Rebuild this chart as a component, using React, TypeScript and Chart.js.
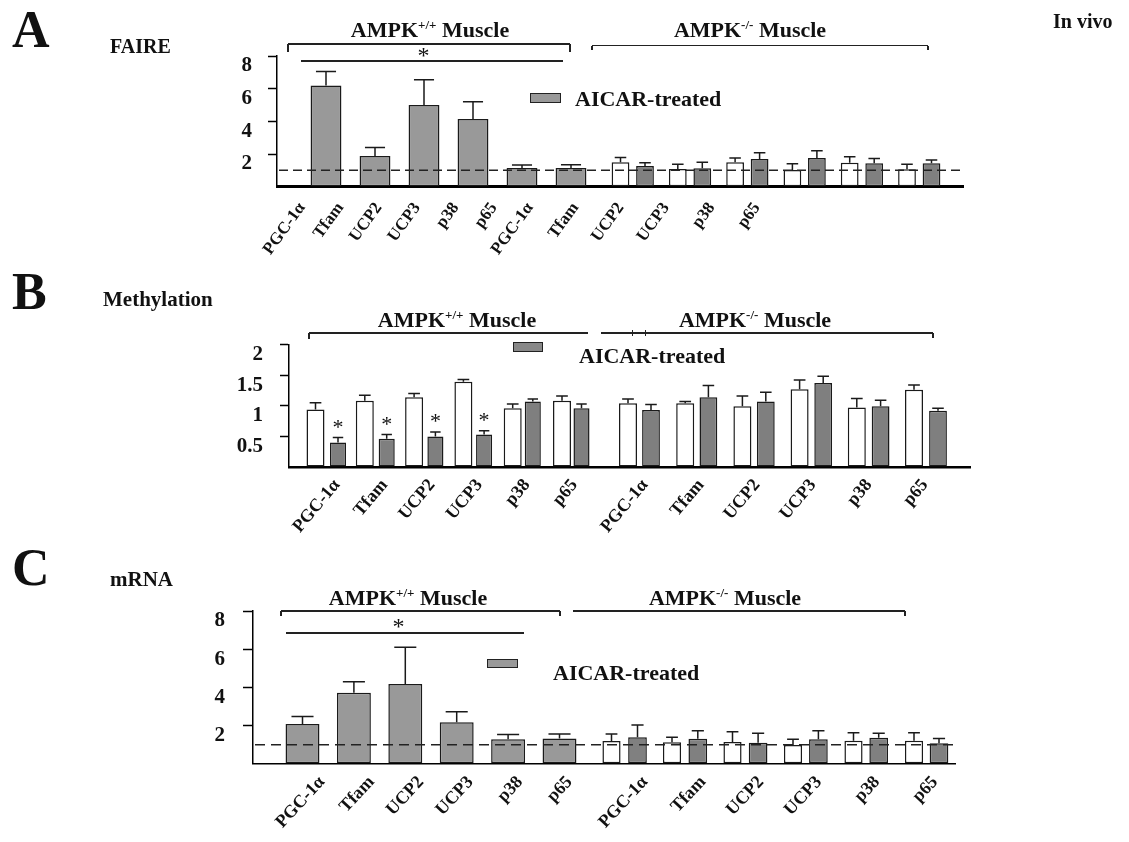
import React, { useEffect, useRef } from "react";
import { Chart, registerables } from "chart.js";

Chart.register(...registerables);

const SERIF = '"Liberation Serif", "Times New Roman", serif';
const INK = "#111";

// ---------- data ----------
const genes = ["PGC-1α", "Tfam", "UCP2", "UCP3", "p38", "p65"];
const allLabels = genes.concat(genes);

// A: FAIRE
const faireWtAicar = [6.2, 1.88, 5.0, 4.15, 1.15, 1.15];
const faireWtAicarErr = [0.85, 0.52, 1.55, 1.05, 0.18, 0.2];
const faireKoCtrl = [1.5, 1.08, 1.5, 1.02, 1.47, 1.07];
const faireKoCtrlErr = [0.28, 0.29, 0.26, 0.39, 0.37, 0.3];
const faireKoAicar = [1.27, 1.13, 1.7, 1.76, 1.43, 1.43];
const faireKoAicarErr = [0.2, 0.37, 0.38, 0.44, 0.29, 0.21];

// B: Methylation
const methWtCtrl = [0.94, 1.08, 1.14, 1.39, 0.96, 1.08];
const methWtCtrlErr = [0.11, 0.09, 0.06, 0.04, 0.07, 0.08];
const methWtAicar = [0.4, 0.46, 0.5, 0.53, 1.07, 0.96];
const methWtAicarErr = [0.08, 0.07, 0.07, 0.06, 0.04, 0.07];
const methWtAicarSig = [true, true, true, true, false, false];
const methKoCtrl = [1.04, 1.04, 0.99, 1.27, 0.97, 1.26];
const methKoCtrlErr = [0.07, 0.03, 0.17, 0.15, 0.15, 0.08];
const methKoAicar = [0.93, 1.14, 1.07, 1.37, 0.99, 0.92];
const methKoAicarErr = [0.09, 0.19, 0.15, 0.11, 0.1, 0.04];

// C: mRNA
const mrnaWtAicar = [2.08, 3.72, 4.18, 2.17, 1.28, 1.33];
const mrnaWtAicarErr = [0.39, 0.58, 1.92, 0.56, 0.26, 0.23];
const mrnaKoCtrl = [1.19, 1.13, 1.14, 0.98, 1.21, 1.21];
const mrnaKoCtrlErr = [0.37, 0.26, 0.54, 0.3, 0.42, 0.42];
const mrnaKoAicar = [1.39, 1.31, 1.1, 1.28, 1.37, 1.07];
const mrnaKoAicarErr = [0.64, 0.42, 0.5, 0.45, 0.23, 0.26];

// ---------- overlay plugin: error bars, asterisks, dashed reference line ----------
const overlayPlugin: any = {
  id: "figOverlay",
  afterDatasetsDraw(chart: any, _args: any, opts: any) {
    const ctx = chart.ctx;
    const y = chart.scales.y;
    const area = chart.chartArea;
    ctx.save();
    chart.data.datasets.forEach((ds: any, di: number) => {
      const meta = chart.getDatasetMeta(di);
      meta.data.forEach((el: any, i: number) => {
        const v = ds.data[i].y;
        const e = ds.err ? ds.err[i] : null;
        if (v == null || e == null) return;
        const x = el.x;
        const w = el.width;
        const yTop = y.getPixelForValue(v);
        const yErr = y.getPixelForValue(v + e);
        const cap = w * 0.65;
        ctx.strokeStyle = "#1a1a1a";
        ctx.lineWidth = 1.5;
        ctx.setLineDash([]);
        ctx.beginPath();
        ctx.moveTo(x, yTop);
        ctx.lineTo(x, yErr);
        ctx.moveTo(x - cap / 2, yErr);
        ctx.lineTo(x + cap / 2, yErr);
        ctx.stroke();
        if (ds.sig && ds.sig[i]) {
          ctx.fillStyle = INK;
          ctx.font = `22px ${SERIF}`;
          ctx.textAlign = "center";
          ctx.textBaseline = "alphabetic";
          ctx.fillText("*", x, yErr - 4);
        }
      });
    });
    if (opts && opts.dashAt != null) {
      const py = y.getPixelForValue(opts.dashAt);
      ctx.setLineDash(opts.dash);
      ctx.lineWidth = 1.5;
      ctx.strokeStyle = "#222";
      ctx.beginPath();
      ctx.moveTo(area.left + 2, py);
      ctx.lineTo(area.right - 2, py);
      ctx.stroke();
    }
    ctx.restore();
  },
};

type Series = {
  values: number[];
  err: number[];
  fill: string;
  pos: [number, number]; // layout: pixel centre of first bar, pixel spacing
  frac: number; // bar width as a fraction of spacing
  sig?: boolean[];
};

type PanelProps = {
  top: number;
  height: number;
  L: number;
  R: number;
  chartTop: number;
  chartBottom: number;
  yMax: number;
  yStep: number;
  yPad: number;
  tickLen: number;
  labP: [number, number];
  labM: [number, number];
  labRot: number;
  labSize: number;
  series: Series[];
  baseWidth: number;
  labelPad: number;
  dash?: number[];
};

const W = 1129;

function Panel(p: PanelProps) {
  const ref = useRef<HTMLCanvasElement | null>(null);
  useEffect(() => {
    if (!ref.current) return;
    const { L, R } = p;
    const idx = genes.map((_, i) => i);
    const xHeight = p.top + p.height - p.chartBottom;

    const scales: any = {};
    const datasets = p.series.map((s, k) => {
      const id = `b${k}`;
      const min = -(s.pos[0] - L) / s.pos[1];
      scales[id] = {
        type: "linear",
        axis: "x",
        position: "bottom",
        display: false,
        offset: false,
        bounds: "data",
        min,
        max: min + (R - L) / s.pos[1],
        afterBuildTicks: (sc: any) => {
          sc.ticks = idx.map((v) => ({ value: v }));
        },
        grid: { offset: false },
      };
      return {
        type: "bar",
        data: s.values.map((v, i) => ({ x: i, y: v })),
        err: s.err,
        sig: s.sig,
        xAxisID: id,
        yAxisID: "y",
        grouped: false,
        backgroundColor: s.fill,
        borderColor: "#1a1a1a",
        borderWidth: 1.5,
        borderSkipped: false,
        categoryPercentage: s.frac,
        barPercentage: 1,
      };
    });

    const labelPos = [
      ...idx.map((i) => p.labP[0] + p.labP[1] * i - L),
      ...idx.map((i) => p.labM[0] + p.labM[1] * i - L),
    ];
    scales.lX = {
      type: "linear",
      position: "bottom",
      offset: false,
      bounds: "data",
      min: 0,
      max: R - L,
      weight: 5,
      afterBuildTicks: (s: any) => {
        s.ticks = labelPos.map((v) => ({ value: v }));
      },
      afterFit: (s: any) => {
        s.height = xHeight;
      },
      grid: { display: false, drawTicks: false, offset: false },
      border: { display: true, color: "#000", width: p.baseWidth },
      ticks: {
        autoSkip: false,
        minRotation: p.labRot,
        maxRotation: p.labRot,
        padding: p.labelPad,
        color: INK,
        font: { family: SERIF, size: p.labSize, weight: "bold" },
        callback: (_v: any, i: number) => allLabels[i] ?? "",
      },
    };
    scales.y = {
      type: "linear",
      position: "left",
      stacked: false,
      min: 0,
      max: p.yMax,
      afterFit: (s: any) => {
        s.width = L;
      },
      ticks: {
        stepSize: p.yStep,
        padding: p.yPad,
        labelOffset: 10,
        color: INK,
        font: { family: SERIF, size: 21, weight: "bold" },
        callback: (v: any) => (v === 0 ? "" : String(v)),
      },
      grid: {
        drawOnChartArea: false,
        drawTicks: true,
        tickLength: p.tickLen,
        tickWidth: 1.5,
        tickColor: (c: any) => (c.tick && c.tick.value === 0 ? "rgba(0,0,0,0)" : "#000"),
      },
      border: { display: true, color: "#000", width: 1.5 },
    };

    const chart = new Chart(ref.current, {
      type: "bar",
      data: { datasets } as any,
      plugins: [overlayPlugin],
      options: {
        animation: false,
        responsive: false,
        events: [],
        layout: { padding: { left: 0, right: W - R, top: p.chartTop - p.top, bottom: 0 } },
        plugins: {
          legend: { display: false },
          tooltip: { enabled: false },
          figOverlay: { dashAt: p.dash ? 1 : null, dash: p.dash },
        } as any,
        scales,
      },
    } as any);
    return () => chart.destroy();
  }, []);
  return (
    <div style={{ position: "absolute", left: 0, top: p.top, width: W, height: p.height }}>
      <canvas ref={ref} width={W} height={p.height} style={{ width: W, height: p.height, display: "block" }} />
    </div>
  );
}

// ---------- overlay helpers ----------
function T(props: { x: number; y: number; size: number; children: any; center?: boolean; weight?: number }) {
  const { x, y, size, children, center, weight = 700 } = props;
  return (
    <div
      style={{
        position: "absolute",
        left: x,
        top: y - 0.8375 * size,
        fontFamily: SERIF,
        fontSize: size,
        fontWeight: weight,
        lineHeight: `${size}px`,
        whiteSpace: "nowrap",
        color: INK,
        transform: center ? "translateX(-50%)" : undefined,
      }}
    >
      {children}
    </div>
  );
}

function HL({ x1, x2, y, w = 1.5 }: { x1: number; x2: number; y: number; w?: number }) {
  return <div style={{ position: "absolute", left: x1, top: y - w / 2, width: x2 - x1, height: w, background: "#222" }} />;
}
function VL({ x, y1, y2, w = 1.5 }: { x: number; y1: number; y2: number; w?: number }) {
  return <div style={{ position: "absolute", left: x - w / 2, top: y1, width: w, height: y2 - y1, background: "#222" }} />;
}
function Box({ x, y, w, h, fill }: { x: number; y: number; w: number; h: number; fill: string }) {
  return (
    <div
      style={{
        position: "absolute",
        left: x,
        top: y,
        width: w,
        height: h,
        background: fill,
        border: "1.5px solid #222",
        boxSizing: "border-box",
      }}
    />
  );
}
function Ampk({ sup }: { sup: string }) {
  return (
    <>
      AMPK
      <span style={{ position: "relative", top: -8, fontSize: 13 }}>{sup}</span> Muscle
    </>
  );
}

export default function App() {
  return (
    <div style={{ position: "absolute", left: 0, top: 0, width: W, height: 842, background: "#fff", overflow: "hidden" }}>
      <Panel
        top={0}
        height={280}
        L={277}
        R={963}
        chartTop={56}
        chartBottom={186.7}
        yMax={8}
        yStep={2}
        yPad={16}
        tickLen={9}
        labP={[302, 38.4]}
        labM={[530, 45.4]}
        labRot={54}
        labSize={17}
        baseWidth={3}
        labelPad={12}
        dash={[9, 5]}
        series={[
          { values: faireWtAicar, err: faireWtAicarErr, fill: "#999999", pos: [326, 49], frac: 0.63 },
          { values: faireKoCtrl, err: faireKoCtrlErr, fill: "#ffffff", pos: [620.5, 57.3], frac: 0.31 },
          { values: faireKoAicar, err: faireKoAicarErr, fill: "#808080", pos: [645, 57.3], frac: 0.31 },
        ]}
      />
      <Panel
        top={290}
        height={270}
        L={289}
        R={970}
        chartTop={344.5}
        chartBottom={467}
        yMax={2}
        yStep={0.5}
        yPad={17}
        tickLen={9}
        labP={[337, 47.5]}
        labM={[645, 56]}
        labRot={50}
        labSize={18}
        baseWidth={2.5}
        labelPad={8}
        series={[
          { values: methWtCtrl, err: methWtCtrlErr, fill: "#ffffff", pos: [315.5, 49.3], frac: 0.365 },
          { values: methWtAicar, err: methWtAicarErr, fill: "#7f7f7f", pos: [338, 48.7], frac: 0.33, sig: methWtAicarSig },
          { values: methKoCtrl, err: methKoCtrlErr, fill: "#ffffff", pos: [628, 57.2], frac: 0.315 },
          { values: methKoAicar, err: methKoAicarErr, fill: "#7f7f7f", pos: [651, 57.4], frac: 0.31 },
        ]}
      />
      <Panel
        top={560}
        height={282}
        L={253}
        R={955}
        chartTop={611}
        chartBottom={763.8}
        yMax={8}
        yStep={2}
        yPad={18}
        tickLen={10}
        labP={[322, 49.5]}
        labM={[645, 58]}
        labRot={47}
        labSize={18}
        baseWidth={1.5}
        labelPad={8}
        dash={[10, 6]}
        series={[
          { values: mrnaWtAicar, err: mrnaWtAicarErr, fill: "#999999", pos: [302.5, 51.4], frac: 0.66 },
          { values: mrnaKoCtrl, err: mrnaKoCtrlErr, fill: "#ffffff", pos: [611.5, 60.5], frac: 0.3 },
          { values: mrnaKoAicar, err: mrnaKoAicarErr, fill: "#808080", pos: [637.5, 60.3], frac: 0.31 },
        ]}
      />

      {/* Panel letters and titles */}
      <T x={12} y={48} size={52}>A</T>
      <T x={110} y={53} size={20}>FAIRE</T>
      <T x={1053} y={28} size={20}>In vivo</T>
      <T x={12} y={310} size={52}>B</T>
      <T x={103} y={307} size={21}>Methylation</T>
      <T x={12} y={586} size={52}>C</T>
      <T x={110} y={587} size={21}>mRNA</T>

      {/* Panel A annotations */}
      <T x={430} y={37} size={22} center>
        <Ampk sup="+/+" />
      </T>
      <T x={750} y={37} size={22} center>
        <Ampk sup="-/-" />
      </T>
      <HL x1={288} x2={570} y={44} />
      <VL x={288} y1={44} y2={52} />
      <VL x={570} y1={44} y2={52} />
      <HL x1={592} x2={928} y={45.5} />
      <VL x={592} y1={45.5} y2={50} />
      <VL x={928} y1={45.5} y2={50} />
      <HL x1={301} x2={563} y={61} />
      <T x={423.5} y={63} size={24} weight={400} center>*</T>
      <Box x={530} y={93} w={31} h={10} fill="#999999" />
      <T x={575} y={106} size={22}>AICAR-treated</T>

      {/* Panel B annotations */}
      <T x={457} y={327} size={22} center>
        <Ampk sup="+/+" />
      </T>
      <T x={755} y={327} size={22} center>
        <Ampk sup="-/-" />
      </T>
      <HL x1={309} x2={588} y={333} />
      <VL x={309} y1={333} y2={339} />
      <HL x1={601} x2={933} y={333} />
      <VL x={933} y1={333} y2={338} />
      <VL x={632} y1={330} y2={336} w={1} />
      <VL x={645} y1={330} y2={336} w={1} />
      <Box x={513} y={342} w={30} h={10} fill="#888888" />
      <T x={579} y={363} size={22}>AICAR-treated</T>

      {/* Panel C annotations */}
      <T x={408} y={605} size={22} center>
        <Ampk sup="+/+" />
      </T>
      <T x={725} y={605} size={22} center>
        <Ampk sup="-/-" />
      </T>
      <HL x1={281} x2={560} y={611} />
      <VL x={281} y1={611} y2={616} />
      <VL x={560} y1={611} y2={616} />
      <HL x1={573} x2={905} y={611} />
      <VL x={905} y1={611} y2={616} />
      <HL x1={286} x2={524} y={633} />
      <T x={398.5} y={634} size={24} weight={400} center>*</T>
      <Box x={487} y={659} w={31} h={9} fill="#999999" />
      <T x={553} y={680} size={22}>AICAR-treated</T>
    </div>
  );
}
